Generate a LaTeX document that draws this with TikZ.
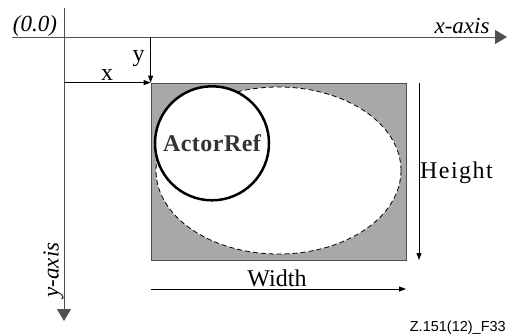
\documentclass[tikz,border=0pt]{standalone}
\usepackage{fontspec}
\setmainfont{Liberation Serif}
\newfontfamily\figfont{Liberation Sans}
\usetikzlibrary{arrows.meta,shapes.geometric}
\definecolor{shade}{HTML}{A8A8A8}
\definecolor{axisline}{HTML}{505050}
\definecolor{reftext}{HTML}{333333}

\begin{document}
\begin{tikzpicture}[x=1pt, y=-1pt,
    every node/.style={font=\fontsize{24}{26}\selectfont, inner sep=0pt},
    axis/.style={draw=axisline, line width=1pt, -{Triangle[length=12pt,width=14pt]}},
    dim/.style={draw=black, line width=0.8pt, -{Triangle[length=7pt,width=5pt]}}]
    \useasboundingbox (0,0) rectangle (507,333);
    \coordinate (origin) at (64,37);
    \coordinate (xstart) at (12,37);
    \coordinate (xend) at (507,37);
    \coordinate (ystart) at (64,8);
    \coordinate (yend) at (64,321);
    \node[draw=axisline, line width=0.8pt, fill=shade, minimum width=255pt, minimum height=177pt] (frame) at (278.5,171.5) {};
    \node[ellipse, draw, dashed, dash pattern=on 5pt off 3pt, line width=0.8pt, fill=white, minimum width=245pt, minimum height=167pt] (region) at (278.5,170.5) {};
    \node[circle, draw, line width=2.5pt, fill=white, minimum size=114pt, font=\fontsize{24}{26}\selectfont\bfseries, text=reftext] (actor) at (212,143.3) {\addfontfeatures{LetterSpace=2}ActorRef};
    \draw[axis] (xstart) -- (xend);
    \draw[axis] (ystart) -- (yend);
    \draw[dim] (frame.north west |- origin) -- (frame.north west);
    \draw[dim] (origin |- frame.north west) -- (frame.north west);
    \coordinate (htop) at (419,83);
    \coordinate (hbot) at (419,260);
    \draw[dim] (htop) -- (hbot);
    \coordinate (wleft) at (151,289);
    \coordinate (wright) at (406,289);
    \draw[dim] (wleft) -- (wright);
    \node[anchor=base, font=\fontsize{23}{25}\selectfont\itshape] (origlabel) at (35,31) {(0.0)};
    \node[anchor=base, font=\fontsize{23}{25}\selectfont\itshape] (xaxislabel) at (462,33) {x-axis};
    \node[anchor=base, rotate=90, font=\fontsize{23}{25}\selectfont\itshape] (yaxislabel) at (58.5,270) {y-axis};
    \node[anchor=base] (xlabel) at (107,80) {x};
    \node[anchor=base] (ylabel) at (138.5,61) {y};
    \node[anchor=base west] (heightlabel) at (420,178) {\addfontfeatures{LetterSpace=6}Height};
    \node[anchor=base] (widthlabel) at (277,286) {Width};
    \node[anchor=base east, font=\figfont\fontsize{14.5}{16}\selectfont] (figid) at (506,331) {Z.151(12)\_F33};
\end{tikzpicture}
\end{document}
